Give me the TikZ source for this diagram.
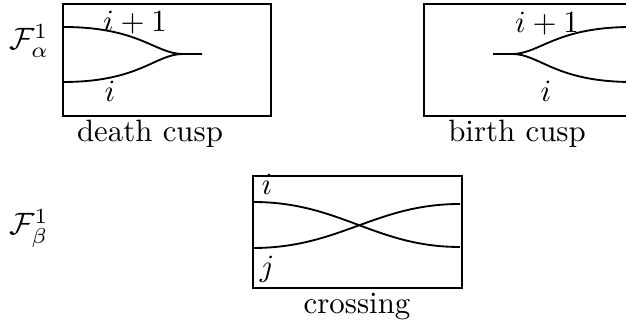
\documentclass[tikz,border=0pt]{standalone}
\begin{document}
\begin{tikzpicture}[x=0.324pt,y=-0.324pt,
  box/.style={line width=0.8pt},
  curve/.style={line width=0.6pt},
  lbl/.style={anchor=base,inner sep=0pt}]
\useasboundingbox (0,0) rectangle (626,327);
\clip (0,0) rectangle (626,327);
% death cusp
\draw[box] (63,4) rectangle (271,116);
\coordinate (dtip) at (183,54);
\coordinate (dend) at (202,54);
\coordinate (dtop) at (63,27);
\coordinate (dbot) at (63,82);
\draw[curve] (dtop) .. controls (140,27) and (155,54) .. (dtip) -- (dend);
\draw[curve] (dbot) .. controls (140,82) and (155,54) .. (dtip);
\node[lbl] (dl1) at (135,32) {$i+1$};
\node[lbl] (dl2) at (110,102) {$i$};
\node[lbl] (dname) at (150,142) {death cusp};
% birth cusp
\draw[box] (424,4) rectangle (632,116);
\coordinate (bstart) at (493,54);
\coordinate (btip) at (512,54);
\coordinate (btop) at (632,27);
\coordinate (bbot) at (632,82);
\draw[curve] (bstart) -- (btip) .. controls (540,54) and (555,27) .. (btop);
\draw[curve] (btip) .. controls (540,54) and (555,82) .. (bbot);
\node[lbl] (bl1) at (547,33) {$i+1$};
\node[lbl] (bl2) at (546,102) {$i$};
\node[lbl] (bname) at (517,142) {birth cusp};
% crossing
\draw[box] (253,176) rectangle (462,288);
\coordinate (ca) at (253,202);
\coordinate (cb) at (460,247);
\coordinate (cc) at (253,248);
\coordinate (cd) at (460,204);
\draw[curve] (ca) .. controls (340,202) and (375,247) .. (cb);
\draw[curve] (cc) .. controls (340,248) and (375,204) .. (cd);
\node[lbl] (cl1) at (267,195) {$i$};
\node[lbl] (cl2) at (267,277) {$j$};
\node[lbl] (cname) at (357,314) {crossing};
% side labels
\node[lbl] (fa) at (29,50) {$\mathcal{F}^1_\alpha$};
\node[lbl] (fb) at (29,235) {$\mathcal{F}^1_\beta$};
\end{tikzpicture}
\end{document}
